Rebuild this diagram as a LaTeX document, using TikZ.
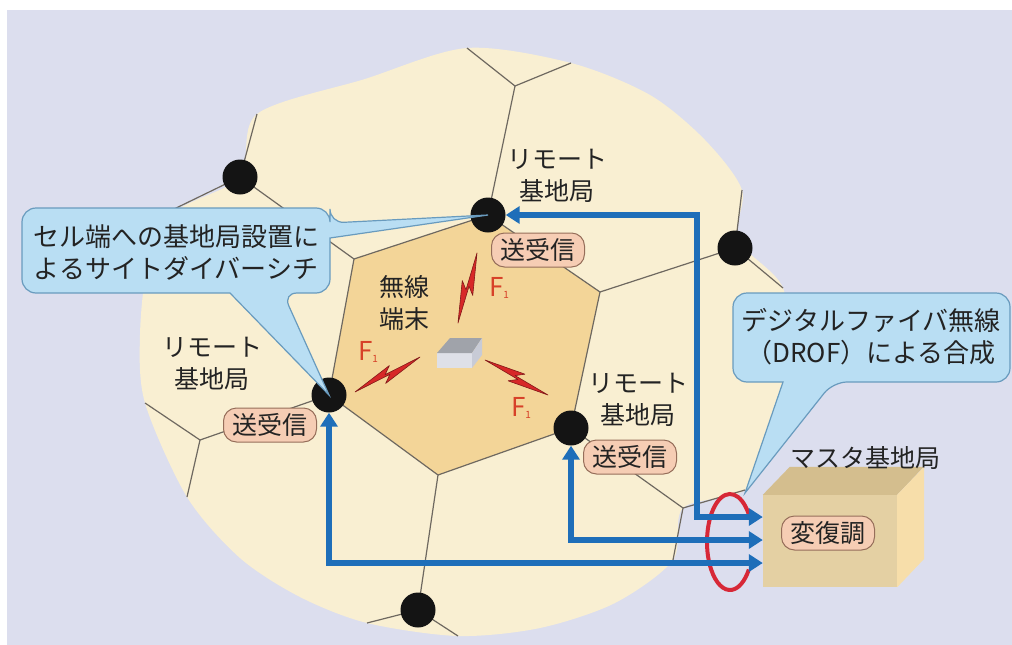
\documentclass[tikz,border=0pt]{standalone}
\usepackage{fontspec}
\setmainfont{Noto Sans CJK JP}
\usetikzlibrary{arrows.meta,calc}

\definecolor{bgcol}{RGB}{220,222,238}
\definecolor{blobcol}{RGB}{249,239,210}
\definecolor{hexcol}{RGB}{243,213,152}
\definecolor{cellcol}{RGB}{110,104,96}
\definecolor{linkcol}{RGB}{30,110,185}
\definecolor{loopcol}{RGB}{215,40,55}
\definecolor{pillcol}{RGB}{246,205,180}
\definecolor{pillline}{RGB}{150,110,90}
\definecolor{notecol}{RGB}{185,222,243}
\definecolor{noteline}{RGB}{105,155,190}
\definecolor{txtcol}{RGB}{35,35,35}
\definecolor{fcol}{RGB}{215,65,40}
\definecolor{boltcol}{RGB}{215,40,40}
\definecolor{boxfront}{RGB}{228,208,163}
\definecolor{boxtop}{RGB}{212,190,142}
\definecolor{boxside}{RGB}{247,222,170}
\definecolor{termtop}{RGB}{160,163,170}
\definecolor{termfront}{RGB}{222,224,232}
\definecolor{termside}{RGB}{200,203,214}

\newcommand\bolt[2]{%
  \filldraw[bolt] (#1) -- ($(#1)!0.58!(#2)!7pt!90:(#2)$) -- ($(#1)!0.47!(#2)!1pt!90:(#2)$) -- (#2)
    -- ($(#1)!0.42!(#2)!7pt!-90:(#2)$) -- ($(#1)!0.53!(#2)!1pt!-90:(#2)$) -- cycle;}

\begin{document}
\begin{tikzpicture}[x=1pt, y=-1pt,
  station/.style={circle, fill=black!92, minimum size=35pt, inner sep=0pt},
  pill/.style={draw=pillline, line width=1pt, fill=pillcol, rounded corners=13pt, inner xsep=9pt,
    inner ysep=3pt, minimum height=34pt, font=\fontsize{25}{25}\selectfont, text=txtcol},
  lbl/.style={align=center, font=\fontsize{25}{32}\selectfont, text=txtcol},
  note/.style={align=center, font=\fontsize{26}{32}\selectfont, text=txtcol},
  callout/.style={fill=notecol, draw=noteline, line width=1.2pt},
  flabel/.style={text=fcol, font=\fontsize{26}{26}\selectfont, inner sep=0pt},
  bolt/.style={fill=boltcol, draw=boltcol!60!black, line width=0.6pt, line join=round},
  cell/.style={every edge/.style={draw=cellcol, line width=1.2pt}},
  link/.style={draw=linkcol, line width=6pt, >={Triangle[length=14pt,width=17pt]}, <->},
  ring/.style={draw=loopcol, line width=4pt},
  front/.style={fill=boxfront, minimum width=134pt, minimum height=92pt, inner sep=0pt}]

  \useasboundingbox (0,0) rectangle (1012,645);
  \fill[white] (0,0) rectangle (1012,645);
  \fill[bgcol] (7,10) rectangle (1012,645);

  % service area
  \fill[blobcol] plot[smooth cycle, tension=0.5] coordinates {
    (257,114) (365,79) (467,48) (571,63) (650,95) (705,140) (742,190) (738,240)
    (783,288) (790,370) (775,440) (745,490) (683,508) (673,560) (615,603) (540,628)
    (458,636) (367,623) (300,597) (240,558) (187,497) (145,403) (140,335) (148,265)
    (175,212) (240,177)};

  \coordinate (pT) at (488,215);
  \coordinate (pTL) at (240,177);
  \coordinate (pTR) at (735,248);
  \coordinate (pL) at (329,395);
  \coordinate (pR) at (571,428);
  \coordinate (pB) at (418,610);
  \coordinate (hA) at (354,259);
  \coordinate (hB) at (600,292);
  \coordinate (hC) at (438,475);
  \coordinate (vT) at (515,86);
  \coordinate (vL) at (200,440);
  \coordinate (vR) at (683,508);
  \coordinate (eT1) at (467,48);
  \coordinate (eT2) at (571,63);
  \coordinate (eTL1) at (257,114);
  \coordinate (eTL2) at (170,211);
  \coordinate (eTR1) at (742,190);
  \coordinate (eTR2) at (783,288);
  \coordinate (eL1) at (145,403);
  \coordinate (eL2) at (187,497);
  \coordinate (eB1) at (367,623);
  \coordinate (eB2) at (458,636);
  \coordinate (eR1) at (745,490);
  \coordinate (eR2) at (673,560);

  \fill[hexcol] (pT) -- (hB) -- (pR) -- (hC) -- (pL) -- (hA) -- cycle;

  \path[cell] (pT) edge (hA)
                   edge (hB)
                   edge (vT)
              (pR) edge (hB)
                   edge (hC)
                   edge (vR)
              (pL) edge (hC)
                   edge (hA)
                   edge (vL)
              (pTL) edge (hA)
                    edge (eTL1)
                    edge (eTL2)
              (pTR) edge (hB)
                    edge (eTR1)
                    edge (eTR2)
              (pB) edge (hC)
                   edge (eB1)
                   edge (eB2)
              (vT) edge (eT1)
                   edge (eT2)
              (vL) edge (eL1)
                   edge (eL2)
              (vR) edge (eR1)
                   edge (eR2);

  % terminal and radio links
  \coordinate (bT1) at (477,253);
  \coordinate (bT2) at (458,323);
  \coordinate (bL1) at (420,357);
  \coordinate (bL2) at (355,392);
  \coordinate (bR1) at (485,360);
  \coordinate (bR2) at (548,395);
  \bolt{bT1}{bT2}
  \bolt{bL1}{bL2}
  \bolt{bR1}{bR2}
  \fill[termfront] (437,353) rectangle (472,368);
  \fill[termtop] (437,353) -- (450,338) -- (482,338) -- (472,353) -- cycle;
  \fill[termside] (472,353) -- (482,338) -- (482,355) -- (472,368) -- cycle;
  \node[lbl] (term) at (404,303) {無線\\端末};
  \node[flabel] (fT) at (499,288) {F\raisebox{-2pt}{\fontsize{10}{10}\selectfont 1}};
  \node[flabel] (fL) at (368,352) {F\raisebox{-2pt}{\fontsize{10}{10}\selectfont 1}};
  \node[flabel] (fR) at (521,408) {F\raisebox{-2pt}{\fontsize{10}{10}\selectfont 1}};

  % master station
  \node[front] (master) at (830,541) {};
  \fill[boxtop] (master.north west) -- ++(27,-28) -- ++(134,0) -- (master.north east) -- cycle;
  \fill[boxside] (master.north east) -- ++(27,-28) -- ++(0,92) -- (master.south east) -- cycle;
  \node[pill] (modem) at (828,533) {変復調};
  \node[lbl] (masterlbl) at (865,458) {マスタ基地局};

  \coordinate (ringc) at (730,542);
  \draw[ring] (ringc) ++(-35:23 and 48) arc[start angle=-35, end angle=-325, x radius=23, y radius=48];

  \node[station] (stT) at (pT) {};
  \node[station] (stTL) at (pTL) {};
  \node[station] (stTR) at (pTR) {};
  \node[station] (stL) at (pL) {};
  \node[station] (stR) at (pR) {};
  \node[station] (stB) at (pB) {};

  \coordinate (turnT) at (697,517);
  \coordinate (turnR) at (571,540);
  \coordinate (turnL) at (329,563);
  \draw[link] (stT) -- (stT -| turnT) -- (turnT) -- (turnT -| master.west);
  \draw[link] (stR) -- (turnR) -- (turnR -| master.west);
  \draw[link] (stL) -- (turnL) -- (turnL -| master.west);

  \node[lbl] (remT) at (557,176) {リモート\\基地局};
  \node[lbl] (remL) at (212,364) {リモート\\基地局};
  \node[lbl] (remR) at (638,400) {リモート\\基地局};
  \node[pill] (trxT) at (538,250) {送受信};
  \node[pill] (trxL) at (270,425) {送受信};
  \node[pill] (trxR) at (630,457) {送受信};

  % callouts
  \coordinate (tipR) at (745,493);
  \filldraw[callout] (176,208) [rounded corners=14pt] -- (330,208) -- (330,223) [sharp corners]
    -- (stT.center) -- (330,238) [rounded corners=14pt] -- (330,293) -- (283,293) [sharp corners]
    -- (stL.center) -- (230,293) [rounded corners=14pt] -- (22,293) -- (22,208) -- cycle;
  \filldraw[callout] (871,293) [rounded corners=14pt] -- (1010,293) -- (1010,382) -- (833,382) [sharp corners]
    -- (tipR) -- (783,382) [rounded corners=14pt] -- (733,382) -- (733,293) -- cycle;
  \node[note] (noteL) at (176,252) {セル端への基地局設置に\\よるサイトダイバーシチ};
  \node[note] (noteR) at (871,337) {デジタルファイバ無線\\（DROF）による合成};
\end{tikzpicture}
\end{document}
